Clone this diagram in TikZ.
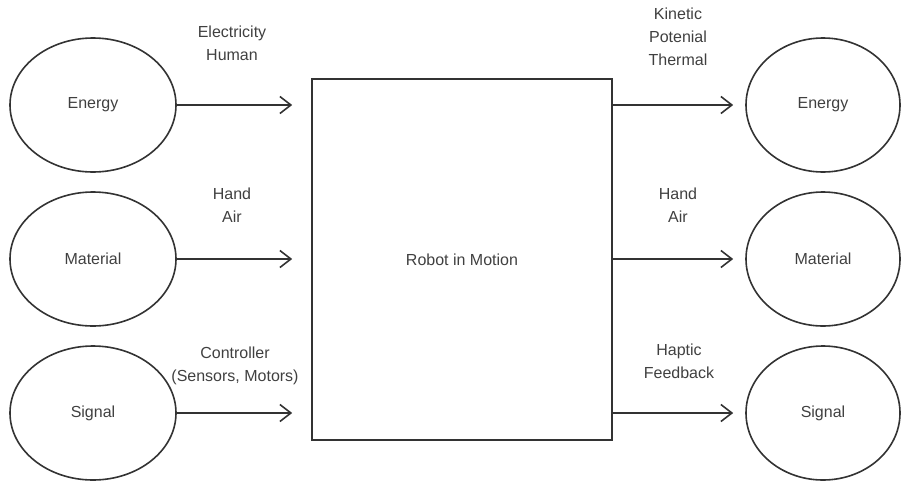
\documentclass[tikz,border=0pt]{standalone}
\usepackage{fontspec}
\setmainfont{Liberation Sans}
\usetikzlibrary{arrows.meta,shapes.geometric,positioning}
\tikzset{
  flownode/.style = {align=center, inner sep=0pt, text=black!75,
    font=\fontsize{16}{23}\selectfont},
  ell_in/.style = {flownode, ellipse, draw=black!80, line width=1.6pt,
    minimum width=166pt, minimum height=134pt},% left ellipse
  ell_out/.style = {flownode, ellipse, draw=black!80, line width=1.6pt,
    minimum width=154pt, minimum height=134pt},% right ellipse
  sysbox/.style = {flownode, rectangle, draw=black!80, line width=1.6pt,
    minimum width=300pt, minimum height=361pt},% system box
  flowlabel/.style = {flownode},% text over an arrow
  flow/.style = {draw=black!80, line width=1.6pt,
    -{Straight Barb[length=11pt,width=17pt,line width=1.6pt]}}
}
\begin{document}
\begin{tikzpicture}[x=1pt,y=-1pt]
\useasboundingbox (0,0) rectangle (904,482);
% system
\node [sysbox] (robot) at (462,259.5) {Robot in Motion};
% inputs
\node [ell_in] (eIn) at (93,105) {Energy};
\node [ell_in] (mIn) at (93,259) {Material};
\node [ell_in] (sIn) at (93,413) {Signal};
% outputs
\node [ell_out] (eOut) at (823,105) {Energy};
\node [ell_out] (mOut) at (823,259) {Material};
\node [ell_out] (sOut) at (823,413) {Signal};
% flows
\draw [flow, shorten >=19pt] (eIn) -- (robot.west |- eIn);
\draw [flow, shorten >=19pt] (mIn) -- (robot.west |- mIn);
\draw [flow, shorten >=19pt] (sIn) -- (robot.west |- sIn);
\draw [flow, shorten >=12pt] (robot.east |- eOut) -- (eOut);
\draw [flow, shorten >=12pt] (robot.east |- mOut) -- (mOut);
\draw [flow, shorten >=12pt] (robot.east |- sOut) -- (sOut);
% labels
\node [flowlabel] (lEIn) at (232,43) {Electricity\\Human};
\node [flowlabel] (lMIn) at (232,205) {Hand\\Air};
\node [flowlabel] (lSIn) at (235,366) {Controller\\(Sensors, Motors)};
\node [flowlabel] (lEOut) at (678,37) {Kinetic\\Potenial\\Thermal};
\node [flowlabel] (lMOut) at (678,205) {Hand\\Air};
\node [flowlabel] (lSOut) at (679,361) {Haptic\\Feedback};
\end{tikzpicture}
\end{document}
